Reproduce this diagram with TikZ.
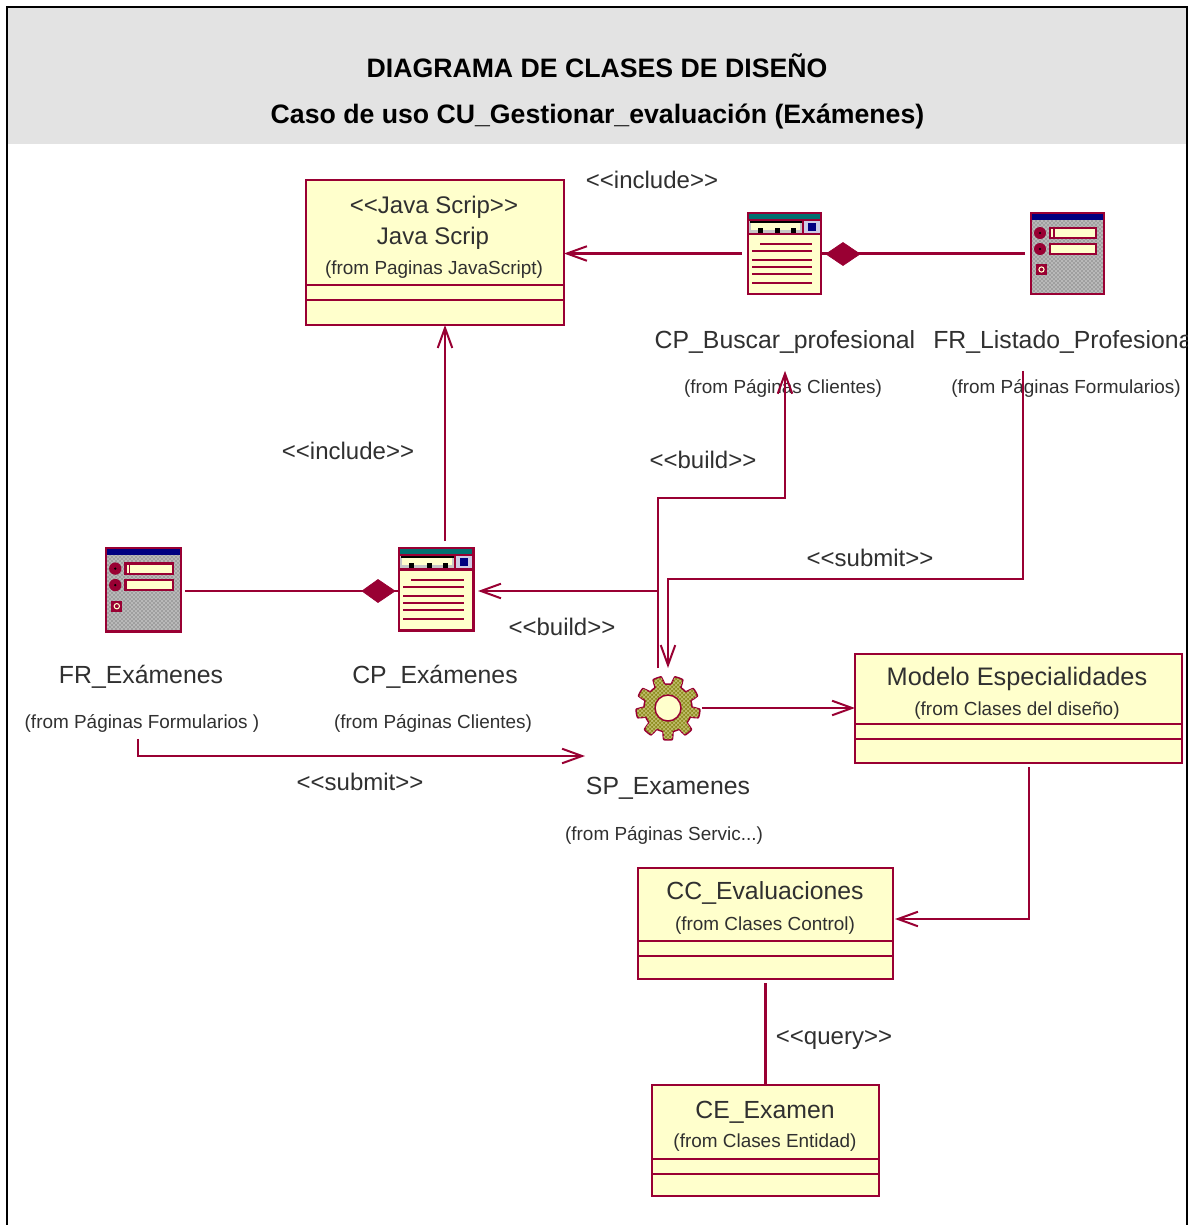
\documentclass[tikz,border=0pt]{standalone}
\usepackage{fontspec}
\setmainfont{Liberation Sans}
\usetikzlibrary{arrows.meta,patterns,calc}
\definecolor{umlred}{HTML}{990033}
\definecolor{umlfill}{HTML}{FFFFCC}
\definecolor{hdr}{HTML}{E3E3E3}
\definecolor{umltxt}{HTML}{303030}
\definecolor{navy2}{HTML}{000080}
\definecolor{teal2}{HTML}{007070}
\definecolor{gearfill}{HTML}{8F8C20}
\tikzset{
  x=0.75pt,y=-0.75pt,
  conn/.style={draw=umlred,line width=1.7pt,line join=miter},
  openarr/.style={conn,-{Straight Barb[length=15pt,width=18pt,line width=1.5pt,angle'=40]}},
  big/.style={text=umltxt,font=\fontsize{18.6}{20}\selectfont,inner sep=0pt},
  clabel/.style={text=umltxt,font=\fontsize{18}{20}\selectfont,inner sep=0pt},
  small/.style={text=umltxt,font=\fontsize{14.2}{16}\selectfont,inner sep=0pt},
  boxline/.style={draw=umlred,line width=1.7pt},
  classbox/.style={boxline,fill=umlfill},
  iconnode/.style={rectangle,inner sep=0pt,outer sep=0pt,minimum width=55.5pt,minimum height=61.5pt},
  dm/.style={fill=umlred,draw=umlred,line width=.5pt},
}
\newcommand{\umlclass}[6]{% name, x1,y1,x2,y2,separators
  \node[classbox,rectangle,inner sep=0pt,outer sep=0pt,anchor=north west,minimum width={(#4-#2)*0.75pt},minimum height={(#5-#3)*0.75pt}] (#1) at (#2,#3) {};
  \foreach \s in {#6} {\draw[boxline] (#2,\s) -- (#4,\s);}
}
\newcommand{\cpicon}[3]{%
 \begin{scope}[shift={(#1,#2)},scale=#3]
  \fill[umlfill] (0,0) rectangle (73,81);
  \fill[teal2] (1,1) rectangle (72,7);
  \fill[gray!45] (1,7) rectangle (55,21);
  \fill[umlfill] (3,10) rectangle (52,17);
  \draw[black,line width=1.5pt] (2,9) -- (54,9);
  \foreach \k in {10,27,43} {\fill[black] (\k,15) rectangle (\k+5,21);}
  \fill[white!80!navy2] (56,8) rectangle (72,20);
  \fill[navy2] (60,10) rectangle (68,18);
  \draw[boxline] (55,7) -- (55,21) (0,7) -- (73,7) (0,21) -- (73,21);
  \foreach \a/\b in {31/12,38/4,47/4,54/4,61/4,70/4} {\draw[umlred,line width=1.6pt] (\b,\a) -- (64,\a);}
  \draw[boxline] (0,0) rectangle (73,81);
 \end{scope}}
\newcommand{\fricon}[3]{%
 \begin{scope}[shift={(#1,#2)},scale=#3]
  \fill[gray!55] (0,0) rectangle (73,81);
  \pattern[pattern=crosshatch dots,pattern color=black!70] (0,0) rectangle (73,81);
  \fill[navy2] (0,0) rectangle (73,7);
  \fill[umlred] (9,20) circle (6);
  \fill[umlred] (9,36) circle (6);
  \fill[black] (9,20) circle (1.2);
  \fill[black] (9,36) circle (1.2);
  \fill[umlred] (5,51) rectangle (16,62);
  \draw[umlfill,line width=.8pt] (10.5,56.5) circle (2.6);
  \draw[boxline,fill=umlfill] (19,15) rectangle (65,25);
  \draw[boxline,fill=umlfill] (19,31) rectangle (65,41);
  \draw[umlred,line width=1pt] (23,16) -- (23,24);
  \draw[boxline] (0,0) rectangle (73,81);
 \end{scope}}
\begin{document}
\begin{tikzpicture}
\useasboundingbox (0,0) rectangle (1188,1225);
\fill[white] (0,0) rectangle (1188,1225);
\fill[hdr] (8,8) rectangle (1186,144);
\draw[black,line width=1.5pt] (7,1225) -- (7,7) -- (1187,7) -- (1187,1225);
\node[font=\bfseries\fontsize{20}{22}\selectfont,inner sep=0pt] (title1) at (597,66) {DIAGRAMA DE CLASES DE DISEÑO};
\node[font=\bfseries\fontsize{20}{22}\selectfont,inner sep=0pt] (title2) at (597.5,116) {Caso de uso CU\_Gestionar\_evaluación (Exámenes)};

% class boxes
\umlclass{js}{306}{180}{564}{325}{285,300}
\umlclass{modelo}{855}{654}{1182}{763}{724,739}
\umlclass{cc}{638}{868}{893}{979}{941,956}
\umlclass{ce}{652}{1085}{879}{1196}{1159,1174}

\node[clabel] (jsa) at (434,207) {<{}<Java Scrip>{}>};
\node[clabel] (jsb) at (433,238) {Java Scrip};
\node[small] (jsc) at (434,270) {(from Paginas JavaScript)};
\node[font=\fontsize{19}{21}\selectfont,text=umltxt,inner sep=0pt] (moa) at (1017,679) {Modelo Especialidades};
\node[small] (mob) at (1017,711) {(from Clases del diseño)};
\node[big] (cca) at (765,893) {CC\_Evaluaciones};
\node[small] (ccb) at (765,926) {(from Clases Control)};
\node[big] (cea) at (765,1112) {CE\_Examen};
\node[small] (ceb) at (765,1143) {(from Clases Entidad)};

% icons
\cpicon{748}{213}{1}
\fricon{1031}{213}{1}
\fricon{106}{548}{1.03}
\cpicon{399}{548}{1.02}
\node[iconnode] (cpb) at (784.5,253.5) {};
\node[iconnode] (frl) at (1067.5,253.5) {};
\node[iconnode] (fre) at (143.5,589.5) {};
\node[iconnode] (cpe) at (436,589.5) {};

% gear
\node[circle,minimum size=24pt,inner sep=0pt,outer sep=0pt] (gear) at (668,708) {};
\begin{scope}[shift={(668,708)}]
 \path[draw=umlred,line width=1.1pt,fill=gearfill,line join=round] plot[domain=0:360,samples=181] ({(28+4*max(-1,min(1,3*sin(9*\x))))*cos(\x)},{(28+4*max(-1,min(1,3*sin(9*\x))))*sin(\x)}) -- cycle;
 \path[pattern=crosshatch,pattern color=umlfill!50!gearfill] plot[domain=0:360,samples=181] ({(27+4*max(-1,min(1,3*sin(9*\x))))*cos(\x)},{(27+4*max(-1,min(1,3*sin(9*\x))))*sin(\x)}) -- cycle;
 \draw[umlred,line width=1.1pt,fill=umlfill] (0,0) circle (13);
\end{scope}

% labels under icons
\node[big] (lcpb) at (785,342) {CP\_Buscar\_profesional};
\node[small] (fcpb) at (783,388) {(from Páginas Clientes)};
\begin{scope}
 \clip (900,300) rectangle (1187,360);
 \node[big,anchor=west] (lfrl) at (933,342) {FR\_Listado\_Profesiona};
\end{scope}
\node[small] (ffrl) at (1066,388) {(from Páginas Formularios)};
\node[big] (lfre) at (141,677) {FR\_Exámenes};
\node[small] (ffre) at (142,723) {(from Páginas Formularios )};
\node[big] (lcpe) at (435,677) {CP\_Exámenes};
\node[small] (fcpe) at (433,723) {(from Páginas Clientes)};
\node[big] (lsp) at (668,788) {SP\_Examenes};
\node[small] (fsp) at (664,835) {(from Páginas Servic...)};

% connector labels
\node[clabel] (inc1) at (652,180) {<{}<include>{}>};
\node[clabel] (inc2) at (348,451) {<{}<include>{}>};
\node[clabel] (bld1) at (703,460) {<{}<build>{}>};
\node[clabel] (sub1) at (870,558) {<{}<submit>{}>};
\node[clabel] (bld2) at (562,627) {<{}<build>{}>};
\node[clabel] (sub2) at (360,782) {<{}<submit>{}>};
\node[clabel] (qry) at (834,1040) {<{}<query>{}>};

% bend points
\coordinate (b1) at (658,591);
\coordinate (b2) at (658,498);
\coordinate (b3) at (785,498);
\coordinate (b4) at (1023,579);
\coordinate (b5) at (668,579);
\coordinate (b6) at (138,756);
\coordinate (b7) at (1029,919);

% connectors
\draw[openarr,shorten <=4.5pt] (cpb.west) -- (cpb.west -| js.east);
\draw[openarr] ([xshift=6.75pt,yshift=5.5pt]cpe.north) -- ([xshift=6.75pt]cpe.north |- js.south);
\draw[conn,shorten <=3.5pt] (fre.east |- b1) -- (cpe.west |- b1);
\fill[dm] (395,591) -- (378,579.5) -- (362,591) -- (378,602.5) -- cycle;
\draw[conn,shorten <=4pt] (frl.west) -- (cpb.east);
\fill[dm] (826,254) -- (843,242.5) -- (860,254) -- (843,265.5) -- cycle;
\draw[openarr] ([xshift=-7.5pt,yshift=30pt]gear.center) -- (b1) -- ([xshift=3.75pt]cpe.east |- b1);
\draw[openarr] (b1) -- (b2) -- (b3) -- ([yshift=6pt]b3 |- fcpb.north);
\draw[openarr] ([yshift=6pt]b4 |- ffrl.north) -- (b4) -- (b5) -- ([yshift=30pt]b5 |- gear.center);
\draw[openarr] ([yshift=-5pt]b6 |- ffre.south) -- (b6) -- (585,756);
\draw[openarr] ([xshift=1.5pt]gear.center -| 700,0) -- (modelo.west |- gear.center);
\draw[openarr] ([yshift=-3pt]b7 |- modelo.south) -- (b7) -- ([xshift=1.5pt]cc.east |- b7);
\draw[conn] ([yshift=-3pt]cc.south) -- (ce.north);
\end{tikzpicture}
\end{document}
